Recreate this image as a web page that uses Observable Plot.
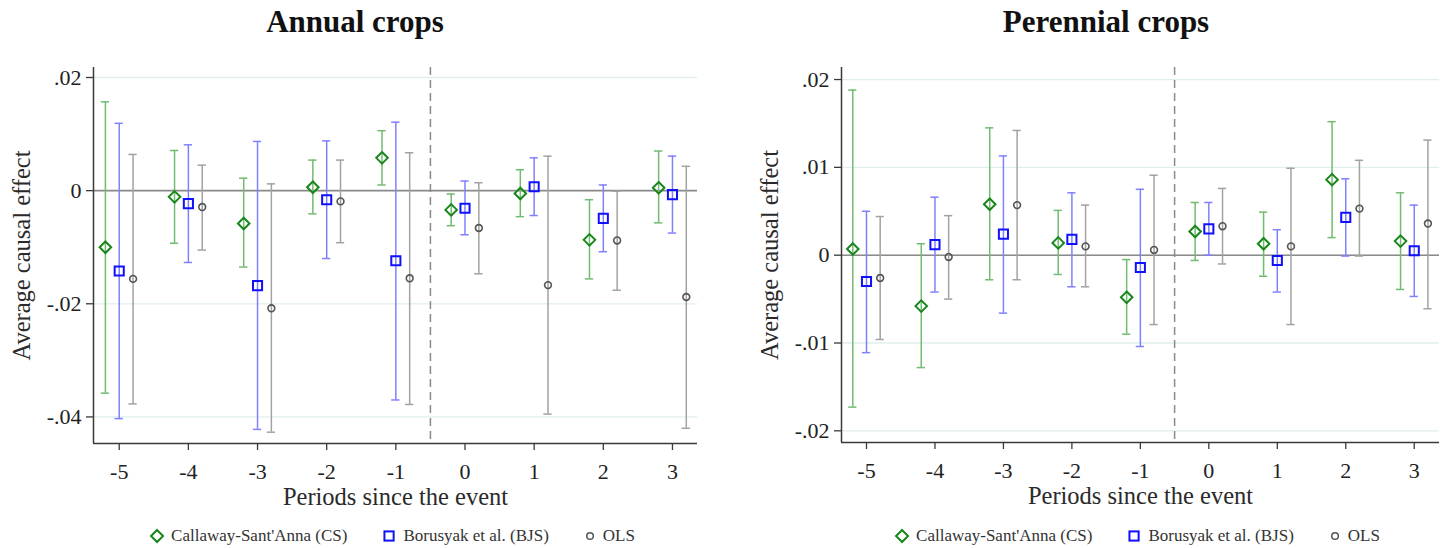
<!DOCTYPE html>
<html>
<head>
<meta charset="utf-8">
<script src="https://cdn.jsdelivr.net/npm/d3@7"></script>
<script src="https://cdn.jsdelivr.net/npm/@observablehq/plot@0.6"></script>
<style>
  html, body { margin: 0; padding: 0; background: #fff; }
  #root { position: relative; width: 1452px; height: 548px; overflow: hidden; font-family: "Liberation Serif", "Times New Roman", serif; color: #222; }
  .panel { position: absolute; top: 0; width: 726px; }
  .title { position: absolute; top: 4px; font-weight: bold; font-size: 31px; white-space: nowrap; transform: translateX(-50%); color: #111; }
  .legend { position: absolute; top: 526px; display: flex; align-items: center; font-size: 17px; white-space: nowrap; transform: translateX(-50%); color: #333; }
  .legend .item { display: flex; align-items: center; }
  .legend svg { margin-right: 6px; }
</style>
</head>
<body>
<div id="root"></div>
<script>
// ---------------- data ----------------
const periods = [-5, -4, -3, -2, -1, 0, 1, 2, 3];
const methods = ["Callaway-Sant'Anna (CS)", "Borusyak et al. (BJS)", "OLS"];
const panelTitles = ["Annual crops", "Perennial crops"];
const yLabel = "Average causal effect";
const xLabel = "Periods since the event";

// Annual crops
const annual_cs_est  = [-0.0100, -0.0011, -0.0058, 0.0006, 0.0058, -0.0034, -0.0005, -0.0087, 0.0005];
const annual_cs_lo   = [-0.0358, -0.0093, -0.0135, -0.0041, 0.0010, -0.0062, -0.0046, -0.0156, -0.0057];
const annual_cs_hi   = [0.0157, 0.0071, 0.0022, 0.0054, 0.0106, -0.0006, 0.0037, -0.0016, 0.0070];
const annual_bjs_est = [-0.0142, -0.0023, -0.0168, -0.0016, -0.0124, -0.0031, 0.0007, -0.0049, -0.0007];
const annual_bjs_lo  = [-0.0403, -0.0127, -0.0422, -0.0120, -0.0370, -0.0078, -0.0044, -0.0108, -0.0075];
const annual_bjs_hi  = [0.0119, 0.0081, 0.0087, 0.0088, 0.0121, 0.0017, 0.0058, 0.0010, 0.0061];
const annual_ols_est = [-0.0156, -0.0029, -0.0208, -0.0019, -0.0155, -0.0066, -0.0167, -0.0088, -0.0188];
const annual_ols_lo  = [-0.0377, -0.0105, -0.0427, -0.0092, -0.0378, -0.0147, -0.0395, -0.0176, -0.0420];
const annual_ols_hi  = [0.0064, 0.0045, 0.0012, 0.0054, 0.0067, 0.0014, 0.0061, -0.0001, 0.0043];

// Perennial crops
const perennial_cs_est  = [0.0007, -0.0058, 0.0058, 0.0014, -0.0048, 0.0027, 0.0013, 0.0086, 0.0016];
const perennial_cs_lo   = [-0.0173, -0.0128, -0.0028, -0.0022, -0.0090, -0.0006, -0.0024, 0.0020, -0.0039];
const perennial_cs_hi   = [0.0188, 0.0013, 0.0145, 0.0051, -0.0005, 0.0060, 0.0049, 0.0152, 0.0071];
const perennial_bjs_est = [-0.0030, 0.0012, 0.0024, 0.0018, -0.0014, 0.0030, -0.0006, 0.0043, 0.0005];
const perennial_bjs_lo  = [-0.0111, -0.0042, -0.0066, -0.0036, -0.0104, 0.0000, -0.0042, -0.0001, -0.0047];
const perennial_bjs_hi  = [0.0050, 0.0066, 0.0113, 0.0071, 0.0075, 0.0060, 0.0029, 0.0087, 0.0057];
const perennial_ols_est = [-0.0026, -0.0002, 0.0057, 0.0010, 0.0006, 0.0033, 0.0010, 0.0053, 0.0036];
const perennial_ols_lo  = [-0.0096, -0.0050, -0.0028, -0.0036, -0.0079, -0.0010, -0.0079, -0.0001, -0.0061];
const perennial_ols_hi  = [0.0044, 0.0045, 0.0142, 0.0057, 0.0091, 0.0076, 0.0099, 0.0108, 0.0131];

// tick values and labels
const annual_yTicks = [0.02, 0, -0.02, -0.04];
const annual_yTickLabels = [".02", "0", "-.02", "-.04"];
const perennial_yTicks = [0.02, 0.01, 0, -0.01, -0.02];
const perennial_yTickLabels = [".02", ".01", "0", "-.01", "-.02"];
const xTickLabels = ["-5", "-4", "-3", "-2", "-1", "0", "1", "2", "3"];

// ---------------- styling ----------------
const offsets = [-0.2, 0, 0.2];
const markColor = ["#17871b", "#1010ff", "#555555"];
const ciColor = ["#72bb72", "#8080ff", "#a2a2a2"];
const symbols = ["diamond2", "square2", "circle"];
const radii = [5.2, 5.8, 3.4];
const axisColor = "#3a3a3a";
const FONT = "'Liberation Serif', 'Times New Roman', serif";

function rowsFor(est, lo, hi, m) {
  return periods.map((p, i) => ({ x: p + offsets[m], est: est[i], lo: lo[i], hi: hi[i] }));
}

const panels = [
  {
    title: panelTitles[0], left: 0, titleX: 355,
    series: [
      rowsFor(annual_cs_est, annual_cs_lo, annual_cs_hi, 0),
      rowsFor(annual_bjs_est, annual_bjs_lo, annual_bjs_hi, 1),
      rowsFor(annual_ols_est, annual_ols_lo, annual_ols_hi, 2)
    ],
    yTicks: annual_yTicks, yTickLabels: annual_yTickLabels,
    yDomain: [-0.0447, 0.02177], xDomain: [-5.372, 3.362],
    margins: { top: 67, bottom: 62, left: 93, right: 29 }
  },
  {
    title: panelTitles[1], left: 726, titleX: 1106 - 726,
    series: [
      rowsFor(perennial_cs_est, perennial_cs_lo, perennial_cs_hi, 0),
      rowsFor(perennial_bjs_est, perennial_bjs_lo, perennial_bjs_hi, 1),
      rowsFor(perennial_ols_est, perennial_ols_lo, perennial_ols_hi, 2)
    ],
    yTicks: perennial_yTicks, yTickLabels: perennial_yTickLabels,
    yDomain: [-0.02133, 0.02137], xDomain: [-5.365, 3.369],
    margins: { top: 67, bottom: 63, left: 115, right: 13 }
  }
];

const root = document.getElementById("root");

panels.forEach(pn => {
  const marks = [
    Plot.gridY(pn.yTicks, { stroke: "#e2eeee", strokeOpacity: 1, strokeWidth: 1.3 }),
    Plot.ruleY([0], { stroke: "#8a8a8a", strokeWidth: 1.6 }),
    Plot.ruleX([-0.5], { stroke: "#8a8a8a", strokeWidth: 1.5, strokeDasharray: "8,5" })
  ];
  pn.series.forEach((rows, m) => {
    marks.push(
      Plot.ruleX(rows, { x: "x", y1: "lo", y2: "hi", stroke: ciColor[m], strokeWidth: 1.5 }),
      Plot.ruleY(rows, { y: "lo", x1: d => d.x - 0.06, x2: d => d.x + 0.06, stroke: ciColor[m], strokeWidth: 1.5 }),
      Plot.ruleY(rows, { y: "hi", x1: d => d.x - 0.06, x2: d => d.x + 0.06, stroke: ciColor[m], strokeWidth: 1.5 }),
      Plot.dot(rows, { x: "x", y: "est", symbol: () => symbols[m], r: radii[m], stroke: markColor[m], fill: "none", strokeWidth: m === 2 ? 1.6 : 2 })
    );
  });
  marks.push(
    Plot.ruleX([pn.xDomain[0]], { stroke: axisColor, strokeWidth: 1.5 }),
    Plot.ruleY([pn.yDomain[0]], { stroke: axisColor, strokeWidth: 1.5 }),
    Plot.axisY(pn.yTicks, {
      tickSize: 7, tickPadding: 5, stroke: axisColor, strokeWidth: 1.3, label: null,
      tickFormat: d => pn.yTickLabels[pn.yTicks.indexOf(d)], fontSize: 22
    }),
    Plot.axisX(periods, {
      tickSize: 7, tickPadding: 13, stroke: axisColor, strokeWidth: 1.3, label: null,
      tickFormat: d => xTickLabels[periods.indexOf(d)], fontSize: 22
    }),
    Plot.text([yLabel], { text: d => d, frameAnchor: "left", textAnchor: "middle", lineAnchor: "middle", dx: -71, rotate: -90, fontSize: 24.5, fill: "#2a2a2a" }),
    Plot.text([xLabel], { text: d => d, frameAnchor: "bottom", textAnchor: "middle", lineAnchor: "middle", dy: 54, fontSize: 24.5, fill: "#2a2a2a" })
  );

  const chart = Plot.plot({
    width: 726, height: 505,
    marginTop: pn.margins.top, marginBottom: pn.margins.bottom,
    marginLeft: pn.margins.left, marginRight: pn.margins.right,
    x: { domain: pn.xDomain },
    y: { domain: pn.yDomain },
    style: { fontFamily: FONT, fontSize: "22px", color: "#222", background: "transparent", overflow: "visible" },
    marks
  });

  const div = document.createElement("div");
  div.className = "panel";
  div.style.left = pn.left + "px";
  div.appendChild(chart);

  const t = document.createElement("div");
  t.className = "title";
  t.style.left = pn.titleX + "px";
  t.textContent = pn.title;
  div.appendChild(t);

  // legend centred on plot area
  const plotCenter = (pn.margins.left + (726 - pn.margins.right)) / 2 - 3;
  const lg = document.createElement("div");
  lg.className = "legend";
  lg.style.left = plotCenter + "px";
  const symSvg = [
    `<svg width="16" height="16" viewBox="-8 -8 16 16"><path d="M0,-6L6,0L0,6L-6,0Z" fill="none" stroke="${markColor[0]}" stroke-width="2"/></svg>`,
    `<svg width="16" height="16" viewBox="-8 -8 16 16"><rect x="-4.6" y="-4.6" width="9.2" height="9.2" fill="none" stroke="${markColor[1]}" stroke-width="2"/></svg>`,
    `<svg width="14" height="14" viewBox="-7 -7 14 14"><circle r="3.3" fill="none" stroke="${markColor[2]}" stroke-width="1.5"/></svg>`
  ];
  methods.forEach((name, m) => {
    const it = document.createElement("div");
    it.className = "item";
    it.style.marginRight = m < 2 ? "34px" : "0";
    it.innerHTML = symSvg[m] + `<span>${name}</span>`;
    lg.appendChild(it);
  });
  div.appendChild(lg);

  root.appendChild(div);
});
</script>
</body>
</html>
